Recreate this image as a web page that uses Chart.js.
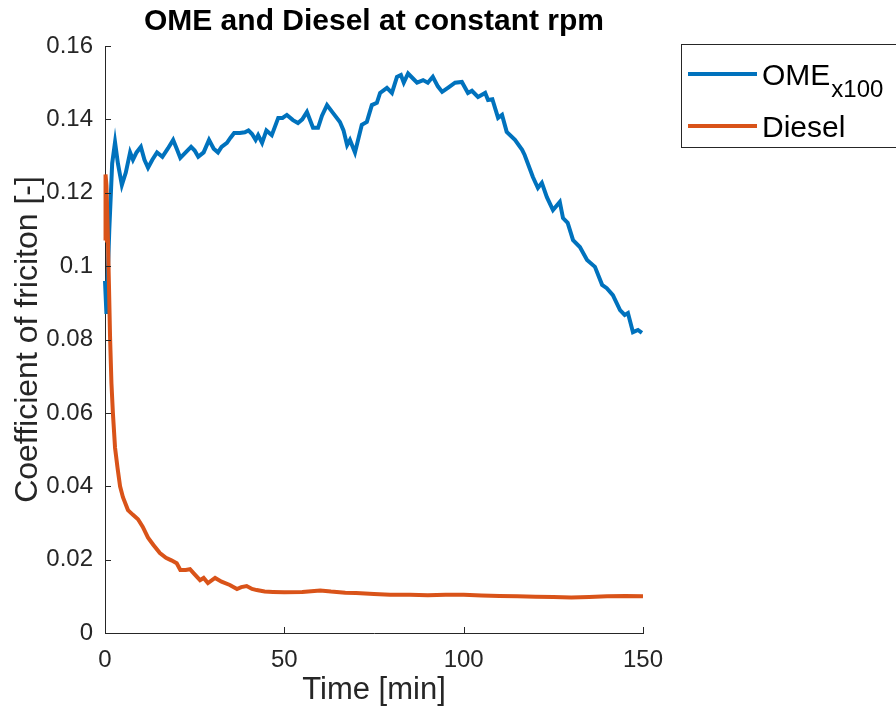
<!DOCTYPE html>
<html>
<head>
<meta charset="utf-8">
<script src="https://cdn.jsdelivr.net/npm/chart.js@4.4.1/dist/chart.umd.min.js"></script>
<style>
  html, body { margin: 0; padding: 0; background: #fff; }
  #wrap { width: 896px; height: 715px; }
</style>
</head>
<body>
<div id="wrap"><canvas id="cof" width="896" height="715"></canvas></div>
<script>
// OME test run (friction x100), time in minutes
const omeTime = [0.0, 0.4, 1.2, 2.0, 2.8, 3.6, 4.7, 5.8, 7.0, 7.8, 8.8, 10.0, 11.0, 12.0, 13.2, 14.5,
  16.0, 17.5, 19.0, 20.0, 21.0, 22.5, 24.0, 25.0, 26.0, 27.5, 29.0, 30.3, 31.5, 32.5, 34.0, 35.0,
  36.0, 37.6, 39.0, 40.0, 41.0, 42.0, 42.7, 43.8, 45.0, 46.5, 48.3, 49.5, 50.7, 52.4, 53.8, 55.0,
  56.3, 58.0, 59.4, 60.5, 61.9, 63.6, 65.5, 66.5, 67.5, 68.3, 69.7, 71.6, 73.0, 74.4, 75.8, 76.7,
  78.6, 80.0, 81.4, 82.5, 83.3, 84.5, 86.0, 87.0, 88.7, 90.0, 91.4, 92.8, 94.0, 95.6, 97.6, 99.5,
  101.2, 102.3, 104.0, 106.0, 106.8, 108.0, 109.6, 110.7, 112.0, 114.3, 116.3, 117.0, 119.3, 120.7,
  121.8, 123.2, 124.9, 126.8, 127.7, 129.0, 130.5, 132.4, 134.4, 136.6, 138.6, 139.9, 141.6, 143.6,
  144.9, 145.8, 147.2, 148.6, 149.7];
const omeCof = [0.096, 0.087, 0.110, 0.128, 0.1338, 0.128, 0.1221, 0.1255, 0.131, 0.129, 0.131, 0.1325,
  0.129, 0.1268, 0.129, 0.131, 0.1298, 0.132, 0.1344, 0.132, 0.1295, 0.131, 0.1325, 0.1315, 0.1298,
  0.131, 0.1344, 0.132, 0.131, 0.1325, 0.1336, 0.135, 0.1363, 0.1363, 0.1365, 0.137, 0.136, 0.1344,
  0.1357, 0.1336, 0.137, 0.1357, 0.1404, 0.1404, 0.1412, 0.1398, 0.139, 0.140, 0.142, 0.1377, 0.1377,
  0.141, 0.1439, 0.1417, 0.1393, 0.137, 0.133, 0.1344, 0.131, 0.1385, 0.1393, 0.1439, 0.1445, 0.1472,
  0.1486, 0.1472, 0.1516, 0.1521, 0.150, 0.1525, 0.151, 0.150, 0.1507, 0.150, 0.1516, 0.149, 0.1475,
  0.1486, 0.150, 0.1502, 0.1472, 0.1478, 0.1461, 0.1472, 0.1453, 0.1455, 0.1404, 0.1412, 0.1366,
  0.1344, 0.1317, 0.1303, 0.1243, 0.1213, 0.1227, 0.1188, 0.1153, 0.1175, 0.1131, 0.1118, 0.1071,
  0.1052, 0.1017, 0.0998, 0.0949, 0.094, 0.0921, 0.088, 0.0867, 0.0872, 0.082, 0.0826, 0.0818];

// Diesel test run
const dieselTime = [0.0, 0.15, 0.4, 0.8, 1.1, 1.4, 1.8, 2.2, 2.8, 3.5, 4.2, 5.0, 6.4, 7.8, 9.2, 10.5,
  12.0, 13.5, 15.3, 17.0, 18.5, 20.0, 21.0, 22.5, 23.7, 25.0, 26.5, 27.5, 28.7, 30.7, 32.5, 34.8,
  36.8, 38.0, 39.5, 41.0, 42.3, 44.5, 46.8, 50.0, 55.0, 60.0, 63.0, 67.0, 70.0, 75.0, 79.5, 85.0,
  90.0, 95.0, 100.0, 105.0, 110.0, 115.0, 120.0, 125.0, 130.0, 135.0, 140.0, 145.0, 150.0];
const dieselCof = [0.107, 0.125, 0.122, 0.108, 0.095, 0.081, 0.068, 0.060, 0.0505, 0.045, 0.040, 0.037,
  0.0335, 0.0322, 0.031, 0.029, 0.026, 0.024, 0.0218, 0.0205, 0.0198, 0.019, 0.0172, 0.0172, 0.0174,
  0.016, 0.0144, 0.015, 0.0136, 0.015, 0.014, 0.0131, 0.012, 0.0125, 0.0128, 0.012, 0.0117, 0.0113,
  0.0112, 0.0111, 0.0112, 0.0116, 0.0113, 0.0110, 0.0109, 0.0106, 0.0104, 0.0104, 0.0103, 0.0104,
  0.0104, 0.0102, 0.0101, 0.0100, 0.0099, 0.0098, 0.0097, 0.0098, 0.0100, 0.0101, 0.0100];

const xTicks = [0, 50, 100, 150];
const yTicks = [0, 0.02, 0.04, 0.06, 0.08, 0.1, 0.12, 0.14, 0.16];
const seriesNames = ["OME", "Diesel"];
const seriesSubs = ["x100", ""];
const seriesColors = ["#0072BD", "#D95319"];

const FONT = '"Liberation Sans", Arial, Helvetica, sans-serif';
const AXIS_COLOR = "#262626";

const toPoints = (xs, ys) => xs.map((x, i) => ({ x: x, y: ys[i] }));

// matlab-style inward ticks, title and legend box
const matlabDecor = {
  id: "matlabDecor",
  afterDraw(chart) {
    const ctx = chart.ctx;
    const area = chart.chartArea;
    const xs = chart.scales.x, ys = chart.scales.y;
    ctx.save();
    ctx.strokeStyle = AXIS_COLOR;
    ctx.lineWidth = 1;
    ctx.beginPath();
    xs.ticks.forEach(t => {
      const px = Math.round(xs.getPixelForValue(t.value)) + 0.5;
      ctx.moveTo(px, area.bottom);
      ctx.lineTo(px, area.bottom - 6);
    });
    ys.ticks.forEach(t => {
      const py = Math.round(ys.getPixelForValue(t.value)) + 0.5;
      ctx.moveTo(area.left, py);
      ctx.lineTo(area.left + 6, py);
    });
    ctx.stroke();

    // title
    ctx.fillStyle = "#000";
    ctx.font = "bold 30px " + FONT;
    ctx.textAlign = "center";
    ctx.textBaseline = "alphabetic";
    ctx.fillText("OME and Diesel at constant rpm", (area.left + area.right) / 2, 30);

    // legend
    const bx = 681.5, by = 44.5, bw = 230, bh = 103;
    ctx.fillStyle = "#fff";
    ctx.fillRect(bx, by, bw, bh);
    ctx.strokeStyle = "#262626";
    ctx.lineWidth = 1;
    ctx.strokeRect(bx, by, bw, bh);
    const rowY = [74, 126];
    chart.data.datasets.forEach((ds, i) => {
      const y = rowY[i];
      ctx.strokeStyle = ds.borderColor;
      ctx.lineWidth = 4;
      ctx.beginPath();
      ctx.moveTo(688, y);
      ctx.lineTo(757, y);
      ctx.stroke();
      ctx.fillStyle = "#000";
      ctx.textAlign = "left";
      ctx.font = "30px " + FONT;
      ctx.fillText(seriesNames[i], 762, y + 11);
      if (seriesSubs[i]) {
        const w = ctx.measureText(seriesNames[i]).width;
        ctx.font = "24px " + FONT;
        ctx.fillText(seriesSubs[i], 762 + w + 1, y + 23);
      }
    });
    ctx.restore();
  }
};

new Chart(document.getElementById("cof").getContext("2d"), {
  type: "line",
  data: {
    datasets: [
      {
        label: seriesNames[0],
        data: toPoints(omeTime, omeCof),
        borderColor: seriesColors[0],
        borderWidth: 4,
        pointRadius: 0,
        tension: 0,
        clip: false,
        order: 2
      },
      {
        label: seriesNames[1],
        data: toPoints(dieselTime, dieselCof),
        borderColor: seriesColors[1],
        borderWidth: 4,
        pointRadius: 0,
        tension: 0,
        clip: false,
        order: 1
      }
    ]
  },
  options: {
    responsive: false,
    animation: false,
    events: [],
    layout: { padding: { left: 0, right: 253, top: 46, bottom: 0 } },
    plugins: { legend: { display: false }, tooltip: { enabled: false }, title: { display: false } },
    scales: {
      x: {
        type: "linear",
        min: 0,
        max: 150,
        afterBuildTicks: scale => { scale.ticks = xTicks.map(v => ({ value: v })); },
        afterFit: scale => { scale.height = 82; },
        grid: { drawOnChartArea: false, drawTicks: false },
        border: { color: AXIS_COLOR, width: 1 },
        ticks: { padding: 13, color: AXIS_COLOR, font: { family: FONT, size: 24 }, maxRotation: 0 },
        title: {
          display: true,
          text: "Time [min]",
          color: AXIS_COLOR,
          font: { family: FONT, size: 31 },
          padding: { top: 0, bottom: 6 }
        }
      },
      y: {
        min: 0,
        max: 0.16,
        afterBuildTicks: scale => { scale.ticks = yTicks.map(v => ({ value: v })); },
        afterFit: scale => { scale.width = 105; },
        grid: { drawOnChartArea: false, drawTicks: false },
        border: { color: AXIS_COLOR, width: 1 },
        ticks: { padding: 12, color: AXIS_COLOR, font: { family: FONT, size: 24 }, callback: v => String(v) },
        title: {
          display: true,
          text: "Coefficient of friciton [-]",
          color: AXIS_COLOR,
          font: { family: FONT, size: 32 },
          padding: { top: 9, bottom: 0 }
        }
      }
    }
  },
  plugins: [matlabDecor]
});
</script>
</body>
</html>
